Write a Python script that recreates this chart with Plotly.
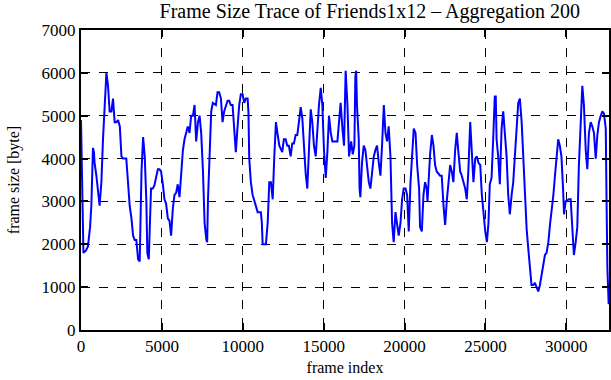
import plotly.graph_objects as go

frame_index = [0, 150, 300, 430, 560, 640, 740, 800, 840, 950, 1150, 1260, 1360, 1460, 1570, 1670, 1770,
               1880, 1980, 2080, 2190, 2290, 2400, 2500, 2600, 2800, 2910, 3010, 3120, 3220, 3320, 3420,
               3530, 3630, 3740, 3840, 3940, 4040, 4100, 4190, 4330, 4440, 4540, 4640, 4750, 4850, 4950,
               5060, 5160, 5260, 5370, 5470, 5570, 5680, 5780, 5880, 5980, 6090, 6190, 6300, 6400, 6500,
               6600, 6710, 6810, 6920, 7020, 7120, 7230, 7330, 7430, 7540, 7640, 7750, 7800, 7850, 7950,
               8050, 8150, 8340, 8440, 8540, 8650, 8750, 8850, 9060, 9160, 9260, 9370, 9470, 9570, 9680,
               9780, 9880, 9990, 10090, 10190, 10300, 10350, 10400, 10500, 10610, 10710, 10820, 10920,
               11120, 11180, 11230, 11430, 11540, 11640, 11740, 11850, 11950, 12050, 12160, 12260, 12440,
               12540, 12650, 12750, 12850, 12960, 13060, 13160, 13270, 13370, 13470, 13580, 13680, 13780,
               13890, 13990, 14090, 14200, 14300, 14400, 14510, 14610, 14710, 14820, 14920, 15020, 15130,
               15230, 15330, 15440, 15540, 15640, 15850, 15950, 16050, 16160, 16260, 16360, 16470, 16570,
               16700, 16800, 16900, 16960, 17010, 17060, 17170, 17220, 17270, 17370, 17480, 17580, 17680,
               17790, 17890, 17990, 18100, 18200, 18300, 18410, 18510, 18610, 18720, 18820, 18920, 19020,
               19130, 19230, 19330, 19440, 19540, 19640, 19750, 19850, 19950, 20060, 20160, 20260, 20370,
               20470, 20570, 20680, 20780, 20900, 20960, 21070, 21170, 21270, 21370, 21420, 21480, 21580,
               21690, 21790, 21890, 21990, 22200, 22300, 22410, 22510, 22610, 22720, 22820, 22920, 23020,
               23130, 23230, 23330, 23440, 23540, 23640, 23750, 23850, 23950, 24060, 24160, 24260, 24370,
               24470, 24570, 24680, 24780, 24880, 24990, 25090, 25190, 25270, 25380, 25480, 25580, 25640,
               25690, 25790, 25890, 26000, 26100, 26200, 26310, 26410, 26510, 26620, 26720, 26820, 26930,
               27030, 27130, 27240, 27340, 27440, 27550, 27650, 27750, 27850, 27960, 28060, 28160, 28270,
               28370, 28470, 28580, 28680, 28780, 28890, 28990, 29090, 29200, 29300, 29400, 29500, 29600,
               29700, 29800, 29860, 29960, 30160, 30270, 30370, 30470, 30580, 30680, 30780, 30890, 30990,
               31090, 31200, 31300, 31400, 31510, 31610, 31710, 31820, 31920, 32020, 32130, 32230, 32330,
               32440, 32490, 32540, 32620]

frame_size = [4900, 1800, 1850, 1950, 2400, 2900, 4250, 4150, 3900, 3600, 2900, 3450, 4450, 5100, 6000,
              5700, 5100, 5100, 5400, 4850, 4850, 4900, 4750, 4050, 4000, 4000, 3450, 2900, 2600, 2200,
              2100, 2100, 1650, 1600, 3700, 4500, 4050, 3000, 1800, 1650, 3300, 3300, 3380, 3600, 3750,
              3750, 3700, 3400, 3050, 2950, 2600, 2550, 2200, 2850, 3150, 3200, 3400, 3100, 3700, 4200,
              4450, 4600, 4750, 4600, 5000, 5000, 5250, 4400, 4850, 5000, 4600, 3700, 2500, 2100, 2050,
              3050, 4050, 5100, 5300, 5250, 5550, 5550, 5400, 4850, 5100, 5350, 5350, 5250, 5250, 4600,
              4150, 4750, 5250, 5500, 5500, 5300, 5400, 5400, 5100, 4000, 3450, 3150, 3000, 2850, 2750,
              2750, 2500, 2000, 2000, 2500, 3450, 3450, 3050, 4050, 4850, 4550, 4300, 4150, 4450, 4450,
              4300, 4300, 4050, 4350, 4350, 4550, 4550, 4850, 5200, 4950, 4300, 3650, 3300, 4400, 5150,
              4850, 4300, 4050, 4700, 5250, 5650, 5250, 4200, 3550, 4150, 5000, 4600, 4400, 4400, 4400,
              4850, 5300, 4700, 4300, 6050, 5250, 4050, 4400, 4100, 4300, 5900, 6050, 5250, 4450, 3300,
              3100, 3900, 4300, 4200, 3900, 3450, 3300, 3750, 4050, 4200, 4300, 3900, 3600, 4300, 5250,
              4600, 4400, 4750, 4050, 2500, 2050, 2750, 2500, 2200, 2500, 3050, 3300, 3300, 3150, 2300,
              3450, 4200, 4700, 4600, 3850, 3300, 2400, 2300, 3150, 3450, 3300, 3000, 3550, 4100, 4550,
              4300, 3850, 3700, 3600, 3600, 2900, 2450, 3000, 3400, 3850, 3700, 3450, 4200, 4600, 4150,
              3700, 3600, 3450, 3300, 3050, 3750, 4850, 4200, 3450, 4000, 4050, 3900, 3850, 3150, 2700,
              2300, 2050, 2500, 3400, 3550, 4450, 5450, 5450, 4450, 4050, 3400, 4700, 5100, 4600, 4050,
              3150, 2700, 3150, 3450, 4050, 4850, 5300, 5400, 4850, 4050, 3150, 2350, 1900, 1500, 1050,
              1050, 1100, 1000, 900, 1050, 1300, 1600, 1750, 1800, 2050, 2450, 2750, 3150, 3600, 4050,
              4450, 4300, 4050, 3300, 2700, 3000, 3050, 3050, 2400, 1750, 2050, 2400, 3850, 4850, 5700,
              5250, 4200, 3750, 4600, 4850, 4750, 4600, 4000, 4550, 4850, 5000, 5100, 5050, 4700, 3000,
              1450, 600, 550]

x_ticks = [0, 5000, 10000, 15000, 20000, 25000, 30000]
x_tick_labels = ["0", "5000", "10000", "15000", "20000", "25000", "30000"]
y_ticks = [0, 1000, 2000, 3000, 4000, 5000, 6000, 7000]
y_tick_labels = ["0", "1000", "2000", "3000", "4000", "5000", "6000", "7000"]

FONT = "Liberation Serif, Times New Roman, serif"

fig = go.Figure()
fig.add_trace(go.Scatter(x=frame_index, y=frame_size, mode="lines",
                         line=dict(color="#0000ff", width=2), showlegend=False))

axis_common = dict(
    showline=True, linecolor="black", linewidth=2, mirror="ticks",
    ticks="inside", ticklen=7, tickwidth=1.5, tickcolor="black",
    showgrid=True, gridcolor="black", gridwidth=1, griddash="dash",
    zeroline=False, automargin=False,
    tickfont=dict(family=FONT, size=17, color="black"),
)

fig.update_layout(
    width=611, height=380,
    margin=dict(l=81, r=2, t=30, b=50),
    plot_bgcolor="white", paper_bgcolor="white",
    title=dict(text="Frame Size Trace of Friends1x12 – Aggregation 200",
               x=0.547, xref="paper", xanchor="center", y=0.972, yanchor="middle",
               font=dict(family=FONT, size=20, color="black")),
    xaxis=dict(range=[0, 32640], tickvals=x_ticks, ticktext=x_tick_labels,
               title=dict(text="frame index", standoff=6,
                          font=dict(family=FONT, size=16, color="black")),
               **axis_common),
    yaxis=dict(range=[0, 7000], tickvals=y_ticks, ticktext=y_tick_labels,
               title=dict(text="frame size [byte]", standoff=18,
                          font=dict(family=FONT, size=16, color="black")),
               **axis_common),
)

fig.write_html("out.html", config={"displayModeBar": False},
               post_script="document.body.style.margin='0';document.body.style.padding='0';")
